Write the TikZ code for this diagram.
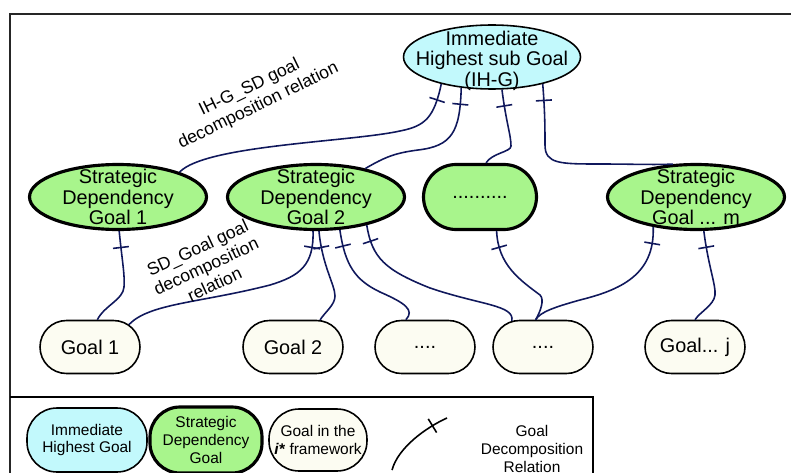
\documentclass[tikz,border=0pt]{standalone}
\usepackage{fontspec}
\setmainfont{Liberation Sans}
\usetikzlibrary{shapes.geometric,shapes.misc,decorations.markings}

\definecolor{ihcyan}{RGB}{194,249,252}
\definecolor{sdgreen}{RGB}{168,245,140}
\definecolor{goalivory}{RGB}{252,252,242}
\definecolor{linknavy}{RGB}{16,24,92}

\begin{document}
\begin{tikzpicture}[x=0.02cm,y=-0.02cm,
goaltext/.style={font=\fontsize{11.3}{11.6}\selectfont,align=center},
ihgoal/.style={ellipse,draw,line width=0.9pt,fill=ihcyan,minimum width=3.54cm,minimum height=1.28cm,inner sep=0pt,label={[goaltext,yshift=-2pt]center:#1}},
sdgoal/.style={ellipse,draw,line width=1.8pt,fill=sdgreen,minimum width=3.54cm,minimum height=1.3cm,inner sep=0pt,label={[goaltext]center:#1}},
sdbox/.style={goaltext,rounded rectangle,draw,line width=1.8pt,fill=sdgreen,minimum width=2.26cm,minimum height=1.3cm,inner sep=0pt},
istar/.style={goaltext,rounded rectangle,draw,line width=0.9pt,fill=goalivory,minimum width=1.5cm,minimum height=1.06cm,inner ysep=0pt,inner xsep=-0.25cm},
decomp/.style={draw=#1,line width=0.9pt,postaction={decorate},
  decoration={markings,mark=at position 0.33cm with {\draw[#1,line width=0.9pt] (0,-0.16cm) -- (0,0.16cm);}}},
decomp/.default=linknavy,
relabel/.style={font=\fontsize{10}{11.5}\selectfont,align=center,inner sep=0pt},
keyshape/.style={draw,rectangle,rounded corners=0.6cm,font=\fontsize{8.8}{10}\selectfont,align=center,inner sep=0pt},
]
\useasboundingbox (0,0) rectangle (791,473);

% outer frame and legend box
\draw[line width=1pt,black!85] (10,473) -- (10,14) -- (791,14);
\draw[line width=1pt] (10,397) -- (593,397) -- (593,473);

% goals
\node[ihgoal={Immediate\\Highest sub Goal\\(IH-G)}] (ihg) at (492,57) {};
\node[sdgoal={Strategic\\Dependency\\Goal 1}] (sd1) at (118,197) {};
\node[sdgoal={Strategic\\Dependency\\Goal 2}] (sd2) at (316,197) {};
\node[sdbox] (sdx) at (480,197) {..........};
\node[sdgoal={Strategic\\Dependency\\Goal ... m}] (sdm) at (696,197) {};

\node[istar] (g1) at (90,347) {Goal 1};
\node[istar] (g2) at (293,347) {Goal 2};
\node[istar] (g3) at (425,347) {....};
\node[istar] (g4) at (543,347) {....};
\node[istar] (gj) at (695,347) {Goal... j};

% IH-G to SD goals
\draw[decomp] (ihg.208) .. controls (434,118) and (425,126) .. (400,131) .. controls (350,142) and (205,145) .. (sd1.22);
\draw[decomp] (ihg.225) .. controls (460,132) and (452,146) .. (418,150) .. controls (395,153) and (385,157) .. (sd2.30);
\draw[decomp] (ihg.287) .. controls (506,122) and (511,135) .. (511,146) .. controls (511,152) and (492,153) .. (sdx.80);
\draw[decomp] (ihg.332) .. controls (545,112) and (545,130) .. (545,145) .. controls (545,164) and (560,164) .. (600,164) .. controls (630,164) and (655,165) .. (sdm.125);

% SD goals to goals
\draw[decomp] (sd1.272) .. controls (122,260) and (125,275) .. (124,287) .. controls (123,300) and (105,305) .. (g1.75);
\draw[decomp] (sd2.265) .. controls (314,265) and (300,276) .. (270,285) .. controls (200,303) and (150,303) .. (g1.30);
\draw[decomp] (sd2.275) .. controls (322,265) and (335,285) .. (335,296) .. controls (335,305) and (325,312) .. (g2.45);
\draw[decomp] (sd2.306) .. controls (345,265) and (355,280) .. (380,292) .. controls (405,303) and (415,310) .. (g3.125);
\draw[decomp] (sd2.331) .. controls (372,258) and (385,270) .. (430,288) .. controls (480,305) and (515,305) .. (g4.140);
\draw[decomp] (sdx.296) .. controls (498,265) and (520,280) .. (540,295) .. controls (545,300) and (540,312) .. (g4.105);
\draw[decomp] (sdm.215) .. controls (655,275) and (620,290) .. (580,300) .. controls (555,307) and (540,312) .. (g4.105);
\draw[decomp] (sdm.283) .. controls (708,265) and (716,285) .. (715,295) .. controls (714,305) and (700,312) .. (gj.90);

% relation labels
\node[relabel,rotate=26] (lblihg) at (254,97) {IH-G\_SD goal\\decomposition relation};
\node[relabel,rotate=25] (lblsd) at (206,266) {SD\_Goal goal\\decomposition\\relation};

% legend
\node[keyshape,fill=ihcyan,line width=0.9pt,minimum width=2.4cm,minimum height=1.28cm] (keyih) at (87,440) {Immediate\\Highest Goal};
\node[keyshape,fill=sdgreen,line width=1.8pt,minimum width=2.24cm,minimum height=1.32cm] (keysd) at (206,440) {Strategic\\Dependency\\Goal};
\node[keyshape,fill=goalivory,line width=0.9pt,minimum width=1.96cm,minimum height=1.24cm] (keygoal) at (318,440) {Goal in the\\\textbf{\textit{i*}} framework};
\coordinate (keyend) at (447,418);
\coordinate (keystart) at (392,470);
\draw[decomp=black] (keyend) .. controls (425,428) and (398,448) .. (keystart);
\node[font=\fontsize{8.8}{10}\selectfont,align=center] (keytext) at (532,449) {Goal\\Decomposition\\Relation};
\end{tikzpicture}
\end{document}
